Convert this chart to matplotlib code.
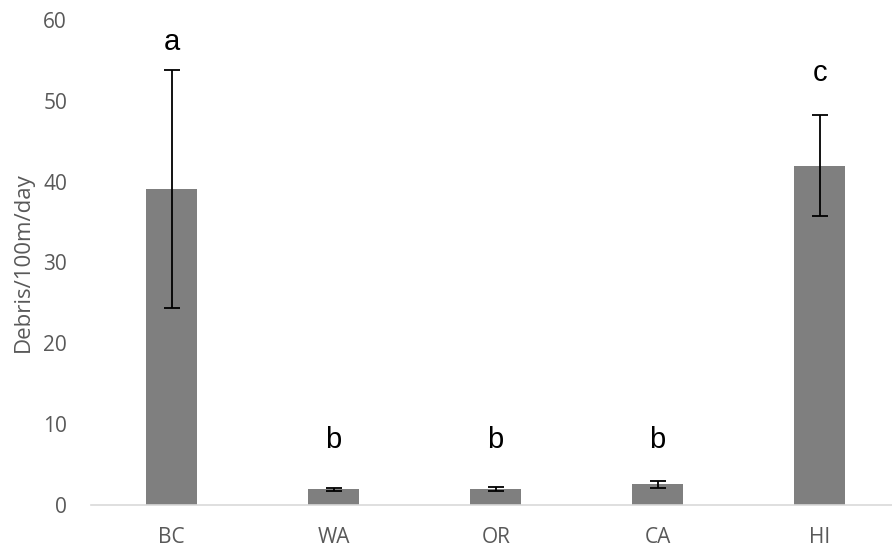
import matplotlib
matplotlib.use("Agg")
import matplotlib.pyplot as plt
import numpy as np

plt.rcParams['font.family'] = ['Open Sans', 'DejaVu Sans']

# values
sites = ['BC', 'WA', 'OR', 'CA', 'HI']
debris = [39.1, 1.95, 2.0, 2.55, 42.0]
err = [14.7, 0.17, 0.27, 0.45, 6.3]
letters = ['a', 'b', 'b', 'b', 'c']
letter_y = [57.3, 8.1, 8.1, 8.1, 53.4]

W, H = 892, 548
fig = plt.figure(figsize=(W / 100, H / 100), dpi=100)
# axes runs a little past the right edge, as in the reference
ax = fig.add_axes([90.7 / W, 43 / H, 810 / W, 485 / H])

x = np.arange(len(sites))
ax.bar(x, debris, width=0.313, color='#7f7f7f', zorder=2)
ax.errorbar(x, debris, yerr=err, fmt='none', ecolor='black',
            elinewidth=1.3, capsize=5.5, capthick=1.3, zorder=3)

for xi, lab, ly in zip(x, letters, letter_y):
    ax.text(xi, ly, lab, ha='center', va='center', fontsize=21,
            family=['Liberation Sans', 'DejaVu Sans'], color='black')

ax.set_xlim(-0.5, 4.5)
ax.set_ylim(0, 60)
ax.set_yticks(range(0, 61, 10))
ax.set_xticks(x)
ax.set_xticklabels(sites)

for s in ['top', 'right', 'left']:
    ax.spines[s].set_visible(False)
ax.spines['bottom'].set_color('#d9d9d9')
ax.spines['bottom'].set_linewidth(1.2)

ax.tick_params(axis='y', length=0, pad=17, labelsize=15, labelcolor='#595959')
ax.tick_params(axis='x', length=0, pad=16, labelsize=15, labelcolor='#595959')

ax.set_ylabel('Debris/100m/day', fontsize=16, color='#595959', labelpad=7)

fig.savefig('out.png', dpi=100)
